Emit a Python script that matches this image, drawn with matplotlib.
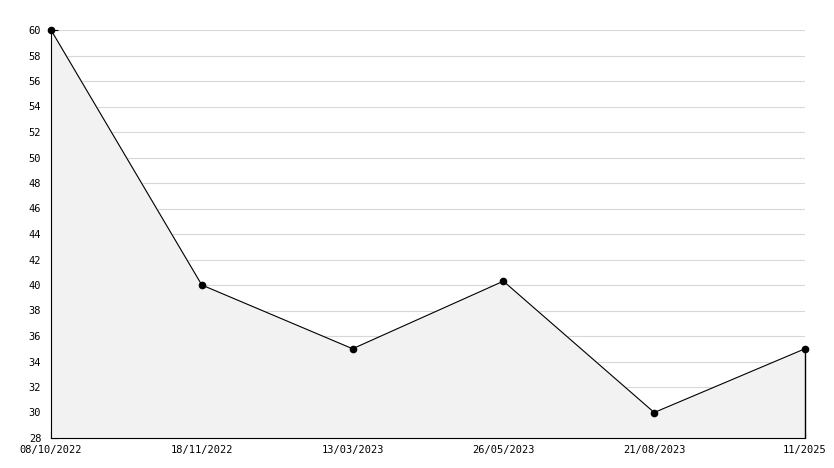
import matplotlib
matplotlib.use("Agg")
import matplotlib.pyplot as plt
from matplotlib.ticker import MultipleLocator

dates = ["08/10/2022", "18/11/2022", "13/03/2023", "26/05/2023", "21/08/2023", "11/2025"]
values = [60, 40, 35, 40.3, 30, 35]

plt.rcParams['font.family'] = ['DejaVu Sans Mono']
fig = plt.figure(figsize=(8.34, 4.68), dpi=100)
ax = fig.add_axes([51/834, 30/468, (805-51)/834, (438-30)/468])
x = list(range(len(dates)))
ax.fill_between(x, values, 28, color="#f2f2f2", zorder=1)
ax.plot(x, values, color="black", lw=0.8, marker="o", ms=4.5, zorder=4, clip_on=False)
ax.vlines(x[-1], 28, values[-1], color="black", lw=1, zorder=3, clip_on=False)
ax.set_xlim(0, len(dates) - 1)
ax.set_ylim(28, 60)
ax.yaxis.set_major_locator(MultipleLocator(2))
ax.yaxis.set_minor_locator(MultipleLocator(1))
ax.set_xticks(x)
ax.set_xticklabels(dates)
ax.grid(axis="y", which="major", color="#d8d8d8", lw=0.8, zorder=0)
ax.set_axisbelow(True)
for s in ["top", "right"]:
    ax.spines[s].set_visible(False)
ax.tick_params(axis="both", which="both", direction="in", labelsize=7.5, pad=2)
ax.tick_params(axis="y", which="major", length=5, pad=7)
ax.tick_params(axis="y", which="minor", length=3)
ax.tick_params(axis="x", length=5, pad=5)
fig.savefig("out.png", dpi=100)
